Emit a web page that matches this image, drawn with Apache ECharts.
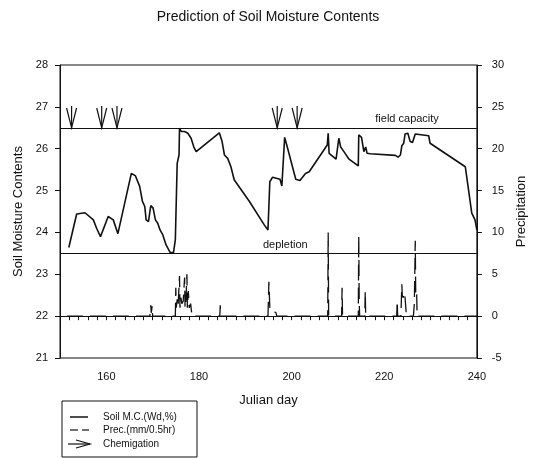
<!DOCTYPE html>
<html>
<head>
<meta charset="utf-8">
<style>
html,body{margin:0;padding:0;background:#fff;}
#chart{width:536px;height:458px;}
</style>
<script src="https://cdn.jsdelivr.net/npm/echarts@6/dist/echarts.min.js"></script>
</head>
<body>
<div id="chart"></div>
<script>
// ---- data ----
const smcDays = [151.9,153.6,155.4,157.2,157.9,158.75,160.4,161.5,162.5,165.4,166.3,167.2,167.8,168.3,168.6,169.1,169.6,170.1,170.6,171.1,171.6,172.2,172.9,173.8,174.5,174.9,175.3,175.7,175.8,176.2,176.9,177.6,178.3,178.9,179.4,184.4,185.0,185.5,186.2,186.9,187.6,190.9,194.1,194.9,195.3,195.9,197.5,197.9,198.5,199.0,200.9,201.8,203.0,203.8,207.7,207.9,208.1,209.6,210.2,210.6,211.3,212.4,214.4,214.5,215.1,215.6,216.0,216.3,217.0,222.4,223.0,223.5,223.8,224.2,224.5,225.1,225.6,226.1,226.7,229.6,229.9,237.5,238.9,239.6,240.0];
const smcValues = [23.64,24.44,24.47,24.30,24.10,23.90,24.38,24.30,23.97,25.41,25.35,25.10,24.74,24.62,24.30,24.26,24.64,24.58,24.30,24.22,24.06,23.94,23.70,23.52,23.52,23.82,25.65,25.85,26.49,26.41,26.41,26.37,26.25,26.04,25.93,26.38,26.17,25.85,25.77,25.57,25.26,24.74,24.18,24.06,25.21,25.32,25.27,25.11,26.27,26.07,25.27,25.24,25.41,25.45,26.09,26.37,25.89,25.75,26.25,26.04,25.93,25.75,25.59,26.33,26.27,25.93,26.04,25.89,25.88,25.84,25.80,25.85,26.07,26.13,26.35,26.37,26.17,26.15,26.35,26.31,26.13,25.57,24.46,24.30,24.06];

const precDays = [151.5,169.4,169.6,169.7,169.9,170.0,174.9,175.0,175.1,175.3,175.5,175.8,175.9,176.1,176.3,176.6,176.9,177.0,177.2,177.4,177.5,177.7,177.9,178.2,178.3,178.5,184.5,184.6,184.7,194.9,195.1,195.3,195.5,195.8,196.1,196.6,196.8,207.8,207.9,208.0,210.8,210.9,211.0,214.4,214.5,214.6,214.7,215.8,215.9,216.0,222.7,222.8,222.9,223.6,223.8,223.9,224.1,224.3,224.5,224.7,224.8,226.3,226.5,226.7,226.8,227.0,227.1,240.0];
const precValues = [0,0,1.3,0.4,1.2,0,0,3.4,1.0,2.0,1.2,4.8,1.0,2.2,1.5,1.8,4.6,1.0,2.0,5.0,1.0,3.0,1.0,1.5,1.3,0,0,1.3,0,0,4.1,1.0,0.9,0.5,0.4,0.45,0,0,10.0,0,0,3.4,0,0,9.6,1.5,0,0,3.0,0,0,1.8,0,0,3.8,2.5,2.2,2.8,2.2,2.0,0,0,1.5,9.0,2.5,2.8,0,0];

const chemigationDays = [152.5,159.0,162.3,196.9,201.2];
const fieldCapacity = 26.5;
const depletion = 23.5;

const leftTicks = [21, 28, 1];     // min, max, interval
const rightTicks = [-5, 30, 5];
const xTicks = [150, 240, 2];
const xLabelEvery = 20;

const legendNames = ['Soil M.C.(Wd,%)', 'Prec.(mm/0.5hr)', 'Chemigation'];

// ---- chart ----
const FONT = "'Liberation Sans', Arial, sans-serif";
const chart = echarts.init(document.getElementById('chart'));

const smcData = smcDays.map((d, i) => [d, smcValues[i]]);
const precData = precDays.map((d, i) => [d, precValues[i]]);
const chemData = chemigationDays.map(d => [d, fieldCapacity]);

const axisTxt = {color: '#111', fontFamily: FONT, fontSize: 11};

const option = {
  animation: false,
  backgroundColor: '#fff',
  title: {
    text: 'Prediction of Soil Moisture Contents',
    left: 'center',
    top: 5,
    textStyle: {fontFamily: FONT, fontSize: 14, fontWeight: 'normal', color: '#111'}
  },
  grid: {left: 60, right: 56, top: 65, bottom: 100, show: true, borderColor: '#111', borderWidth: 1, backgroundColor: 'transparent'},
  xAxis: {
    type: 'value', min: xTicks[0], max: xTicks[1], interval: xTicks[2],
    name: 'Julian day', nameLocation: 'middle', nameGap: 36,
    nameTextStyle: {fontFamily: FONT, fontSize: 13, color: '#111'},
    axisLine: {lineStyle: {color: '#111', width: 1}},
    axisTick: {show: true, inside: false, length: 4, lineStyle: {color: '#111'}},
    axisLabel: Object.assign({margin: 13, formatter: v => (v % xLabelEvery === 0 && v > xTicks[0]) ? String(v) : ''}, axisTxt),
    splitLine: {show: false}
  },
  yAxis: [
    {
      type: 'value', min: leftTicks[0], max: leftTicks[1], interval: leftTicks[2],
      name: 'Soil Moisture Contents', nameLocation: 'middle', nameGap: 34, nameRotate: 90,
      nameTextStyle: {fontFamily: FONT, fontSize: 13, color: '#111'},
      axisLine: {show: true, lineStyle: {color: '#111', width: 1}},
      axisTick: {show: true, inside: false, length: 5, lineStyle: {color: '#111'}},
      axisLabel: Object.assign({margin: 12}, axisTxt),
      splitLine: {show: false}
    },
    {
      type: 'value', min: rightTicks[0], max: rightTicks[1], interval: rightTicks[2], position: 'right',
      name: 'Precipitation', nameLocation: 'middle', nameGap: 36, nameRotate: 90,
      nameTextStyle: {fontFamily: FONT, fontSize: 13, color: '#111'},
      axisLine: {show: true, lineStyle: {color: '#111', width: 1}},
      axisTick: {show: true, inside: false, length: 5, lineStyle: {color: '#111'}},
      axisLabel: Object.assign({margin: 15}, axisTxt),
      splitLine: {show: false}
    }
  ],
  series: [
    {
      name: legendNames[0], type: 'line', yAxisIndex: 0, data: smcData,
      symbol: 'none', lineStyle: {color: '#111', width: 1.6}, itemStyle: {color: '#111'}, z: 3,
      markLine: {
        silent: true, symbol: 'none', animation: false,
        lineStyle: {color: '#111', width: 1.2, type: 'solid'},
        data: [
          {yAxis: fieldCapacity, label: {show: true, formatter: 'field capacity', position: 'insideEndTop', distance: [38, 3], fontFamily: FONT, fontSize: 11, color: '#111'}},
          {yAxis: depletion, label: {show: true, formatter: 'depletion', position: 'insideStartTop', distance: [203, 3], fontFamily: FONT, fontSize: 11, color: '#111'}}
        ]
      }
    },
    {
      name: legendNames[1], type: 'line', yAxisIndex: 1, data: precData,
      symbol: 'none', lineStyle: {color: '#111', width: 1.3, type: [16, 7]}, itemStyle: {color: '#111'}, z: 2
    },
    {
      name: legendNames[2], type: 'custom', yAxisIndex: 0, data: chemData,
      encode: {x: 0, y: 1}, z: 4,
      renderItem: function (params, api) {
        const tip = api.coord([api.value(0), api.value(1)]);
        const top = api.coord([api.value(0), 27.02]);
        return {
          type: 'group',
          children: [
            {type: 'line', shape: {x1: tip[0], y1: top[1], x2: tip[0], y2: tip[1]}, style: {stroke: '#111', lineWidth: 1.2}},
            {type: 'polyline', shape: {points: [[tip[0] - 5, top[1] + 2], [tip[0], tip[1]], [tip[0] + 5, top[1] + 2]]}, style: {stroke: '#111', fill: null, lineWidth: 1.2}}
          ]
        };
      }
    }
  ],
  graphic: [
    {type: 'rect', shape: {x: 62, y: 401, width: 135, height: 56}, style: {stroke: '#111', fill: 'none', lineWidth: 1}},
    {type: 'line', shape: {x1: 70, y1: 417, x2: 88, y2: 417}, style: {stroke: '#111', lineWidth: 1.5}},
    {type: 'line', shape: {x1: 70, y1: 430, x2: 78, y2: 430}, style: {stroke: '#111', lineWidth: 1.2}},
    {type: 'line', shape: {x1: 82, y1: 430, x2: 89, y2: 430}, style: {stroke: '#111', lineWidth: 1.2}},
    {type: 'line', shape: {x1: 68, y1: 444, x2: 90, y2: 444}, style: {stroke: '#111', lineWidth: 1.2}},
    {type: 'polyline', shape: {points: [[76, 440], [90, 444], [76, 448]]}, style: {stroke: '#111', fill: null, lineWidth: 1.2}},
    {type: 'text', x: 103, y: 417, style: {text: legendNames[0], font: '10px ' + FONT, fill: '#111', verticalAlign: 'middle'}},
    {type: 'text', x: 103, y: 430, style: {text: legendNames[1], font: '10px ' + FONT, fill: '#111', verticalAlign: 'middle'}},
    {type: 'text', x: 103, y: 444, style: {text: legendNames[2], font: '10px ' + FONT, fill: '#111', verticalAlign: 'middle'}}
  ]
};
chart.setOption(option);
</script>
</body>
</html>
